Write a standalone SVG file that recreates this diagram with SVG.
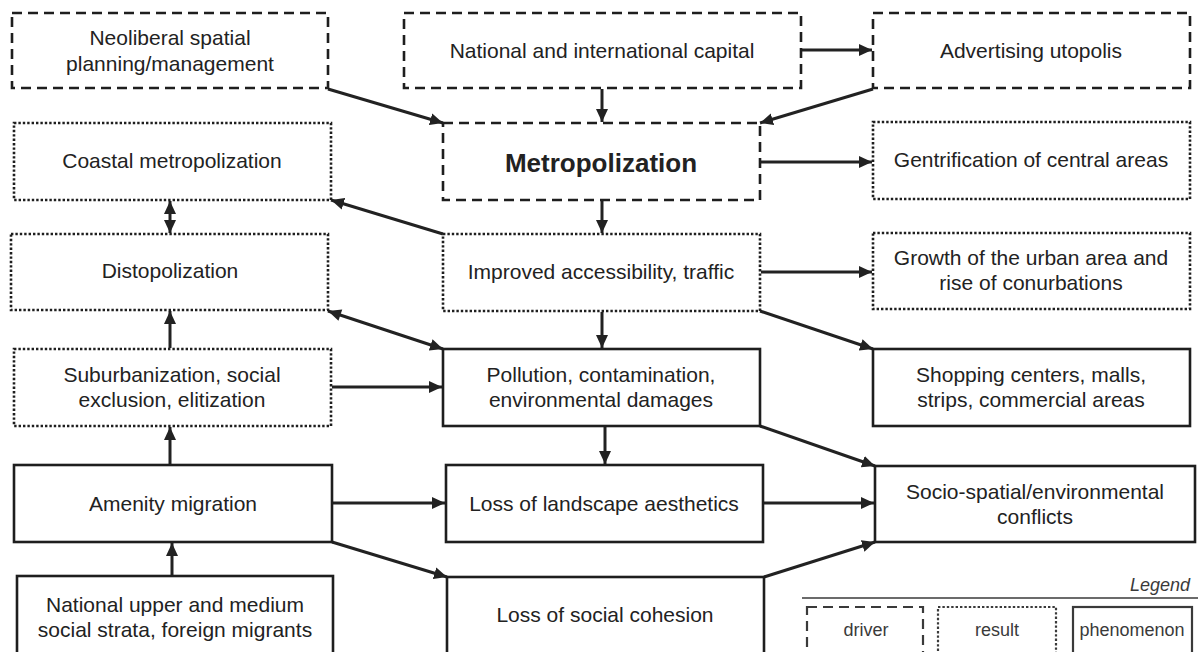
<svg xmlns="http://www.w3.org/2000/svg" width="1198" height="652" viewBox="0 0 1198 652">
<style>
.box{fill:#fff;stroke:#1e1e1e;stroke-width:2.6}
.driver{stroke-dasharray:10 6}
.result{stroke-dasharray:2.4 2}
.t{font-family:"Liberation Sans",Arial,sans-serif;font-size:21px;fill:#222;text-anchor:middle}
.b{font-weight:bold;font-size:26px}
.c line{stroke:#222;stroke-width:3;fill:none;marker-end:url(#ah)}
.c line.bi{marker-start:url(#ahs)}
.lg{fill:#fff;stroke:#3a3a3a;stroke-width:2.2}
.lt{font-family:"Liberation Sans",Arial,sans-serif;font-size:18px;fill:#3a3a3a;text-anchor:middle}
</style>
<defs>
<marker id="ah" markerUnits="userSpaceOnUse" markerWidth="14" markerHeight="13" refX="13" refY="6.5" orient="auto">
<path d="M0,0.5 L13,6.5 L0,12.5 z" fill="#222"/>
</marker>
<marker id="ahs" markerUnits="userSpaceOnUse" markerWidth="14" markerHeight="13" refX="0" refY="6.5" orient="auto">
<path d="M13,0.5 L0,6.5 L13,12.5 z" fill="#222"/>
</marker>
</defs>
<rect width="1198" height="652" fill="#fff"/>

<g class="c" id="connectors">
<line x1="328" y1="89" x2="443" y2="123"/>
<line x1="602" y1="89" x2="602" y2="122"/>
<line x1="802" y1="50" x2="872" y2="50"/>
<line x1="873" y1="89" x2="760" y2="123"/>
<line x1="761" y1="162" x2="872" y2="162"/>
<line x1="602" y1="201" x2="602" y2="233"/>
<line x1="443" y1="234" x2="331" y2="200"/>
<line class="bi" x1="170" y1="201" x2="170" y2="233"/>
<line x1="761" y1="272" x2="872" y2="272"/>
<line x1="760" y1="311" x2="873" y2="349"/>
<line x1="602" y1="312" x2="602" y2="348"/>
<line class="bi" x1="328" y1="311" x2="443" y2="349"/>
<line x1="170" y1="348" x2="170" y2="311"/>
<line x1="332" y1="387" x2="442" y2="387"/>
<line x1="605" y1="427" x2="605" y2="464"/>
<line x1="760" y1="426" x2="875" y2="466"/>
<line x1="170" y1="464" x2="170" y2="427"/>
<line x1="333" y1="503" x2="445" y2="503"/>
<line x1="332" y1="542" x2="447" y2="577"/>
<line x1="764" y1="503" x2="874" y2="503"/>
<line x1="764" y1="577" x2="875" y2="542"/>
<line x1="172" y1="575" x2="172" y2="543"/>
</g>

<g id="n-neoliberal"><rect class="box driver" x="12" y="13" width="316" height="75"/>
<text class="t" x="170" y="45">Neoliberal spatial</text><text class="t" x="170" y="71">planning/management</text></g>
<g id="n-capital"><rect class="box driver" x="404" y="13" width="397" height="75"/>
<text class="t" x="602" y="58">National and international capital</text></g>
<g id="n-advertising"><rect class="box driver" x="873" y="13" width="317" height="75"/>
<text class="t" x="1031" y="58">Advertising utopolis</text></g>

<g id="n-coastal"><rect class="box result" x="14" y="123" width="317" height="77"/>
<text class="t" x="172" y="168">Coastal metropolization</text></g>
<g id="n-metropolization"><rect class="box driver" x="443" y="123" width="317" height="77"/>
<text class="t b" x="601" y="172">Metropolization</text></g>
<g id="n-gentrification"><rect class="box result" x="873" y="122" width="317" height="77"/>
<text class="t" x="1031" y="167">Gentrification of central areas</text></g>

<g id="n-distopolization"><rect class="box result" x="11" y="234" width="317" height="76"/>
<text class="t" x="170" y="278">Distopolization</text></g>
<g id="n-improved"><rect class="box result" x="443" y="234" width="317" height="77"/>
<text class="t" x="601" y="279">Improved accessibility, traffic</text></g>
<g id="n-growth"><rect class="box result" x="873" y="233" width="317" height="76"/>
<text class="t" x="1031" y="265">Growth of the urban area and</text><text class="t" x="1031" y="290">rise of conurbations</text></g>

<g id="n-suburbanization"><rect class="box result" x="14" y="349" width="317" height="77"/>
<text class="t" x="172" y="382">Suburbanization, social</text><text class="t" x="172" y="407">exclusion, elitization</text></g>
<g id="n-pollution"><rect class="box" x="443" y="349" width="317" height="77"/>
<text class="t" x="601" y="382">Pollution, contamination,</text><text class="t" x="601" y="407">environmental damages</text></g>
<g id="n-shopping"><rect class="box" x="873" y="349" width="317" height="77"/>
<text class="t" x="1031" y="382">Shopping centers, malls,</text><text class="t" x="1031" y="407">strips, commercial areas</text></g>

<g id="n-amenity"><rect class="box" x="14" y="465" width="318" height="77"/>
<text class="t" x="173" y="511">Amenity migration</text></g>
<g id="n-landscape"><rect class="box" x="446" y="465" width="317" height="77"/>
<text class="t" x="604" y="511">Loss of landscape aesthetics</text></g>
<g id="n-conflicts"><rect class="box" x="875" y="466" width="320" height="76"/>
<text class="t" x="1035" y="499">Socio-spatial/environmental</text><text class="t" x="1035" y="524">conflicts</text></g>

<g id="n-strata"><rect class="box" x="17" y="576" width="316" height="120"/>
<text class="t" x="175" y="612">National upper and medium</text><text class="t" x="175" y="637">social strata, foreign migrants</text></g>
<g id="n-cohesion"><rect class="box" x="447" y="577" width="317" height="120"/>
<text class="t" x="605" y="622">Loss of social cohesion</text></g>

<g id="legend">
<text class="lt" x="1190" y="591" style="text-anchor:end;font-style:italic">Legend</text>
<line x1="802" y1="598" x2="1198" y2="598" stroke="#3a3a3a" stroke-width="1.3"/>
<rect class="lg driver" x="807" y="607" width="116" height="80"/>
<text class="lt" x="866" y="636">driver</text>
<rect class="lg result" x="938" y="607" width="118" height="80"/>
<text class="lt" x="997" y="636">result</text>
<rect class="lg" x="1073" y="607" width="119" height="80"/>
<text class="lt" x="1132" y="636">phenomenon</text>
</g>
</svg>
